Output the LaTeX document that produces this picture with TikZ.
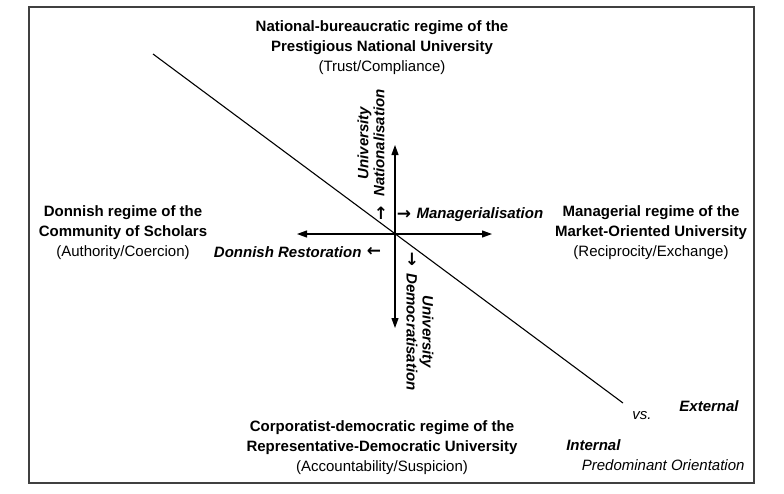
\documentclass[tikz,border=0pt]{standalone}
\usepackage{fontspec}
\setmainfont{Liberation Sans}
\newfontfamily\arrowfont{DejaVu Sans}
\usetikzlibrary{arrows.meta}

\begin{document}
\begin{tikzpicture}[x=1pt,y=-1pt,
  regime/.style={align=center,font=\fontsize{15}{20}\selectfont},
  shiftlabel/.style={font=\fontsize{15}{16}\selectfont\bfseries\itshape},
  shiftarrow/.style={font=\arrowfont\bfseries\fontsize{17}{17}\selectfont,inner sep=0pt},
  axis/.style={line width=1.1pt,-{Triangle[length=10pt,width=7pt]}}]
  \useasboundingbox (0,0) rectangle (784,493);
  \draw[line width=1.4pt,black!75] (29,7) rectangle (754,483);

  % the four regimes
  \node[regime] (natl) at (382,48) {\textbf{National-bureaucratic regime of the}\\\textbf{Prestigious National University}\\(Trust/Compliance)};
  \node[regime] (donn) at (123,233) {\textbf{Donnish regime of the}\\\textbf{Community of Scholars}\\(Authority/Coercion)};
  \node[regime] (mana) at (651,233) {\textbf{Managerial regime of the}\\\textbf{Market-Oriented University}\\(Reciprocity/Exchange)};
  \node[regime] (corp) at (382,448) {\textbf{Corporatist-democratic regime of the}\\\textbf{Representative-Democratic University}\\(Accountability/Suspicion)};

  % orientation line
  \coordinate (dtop) at (153,54);
  \coordinate (dbot) at (623,403);
  \draw[line width=1.1pt] (dtop) -- (dbot);

  % axes
  \coordinate (o) at (395,234);
  \coordinate (up) at (395,145);
  \coordinate (down) at (395,328);
  \coordinate (left) at (297,234);
  \coordinate (right) at (492,234);
  \draw[axis] (o) -- (up);
  \draw[axis] (o) -- (down);
  \draw[axis] (o) -- (left);
  \draw[axis] (o) -- (right);

  % shifts between regimes
  \node[shiftlabel,rotate=90,align=center] (natn) at (371,143) {University\\Nationalisation};
  \node[shiftarrow] (natnarr) at (381,213) {↑};
  \node[shiftarrow] (manaarr) at (404,215) {→};
  \node[shiftlabel,anchor=west] (manashift) at (413,215) {Managerialisation};
  \node[shiftlabel,anchor=east] (donnshift) at (365,252) {Donnish Restoration};
  \node[shiftarrow] (donnarr) at (374,252) {←};
  \node[shiftarrow] (demoarr) at (412,259) {↓};
  \node[shiftlabel,rotate=-90,align=center] (demo) at (420,332) {University\\Democratisation};

  % predominant orientation
  \node[font=\fontsize{15}{16}\selectfont\itshape] (vs) at (642,416) {vs.};
  \node[shiftlabel] (ext) at (709,406) {External};
  \node[shiftlabel,anchor=east] (int) at (624,445) {Internal};
  \node[font=\fontsize{15}{16}\selectfont\itshape,anchor=east] (pred) at (748,465) {Predominant Orientation};
\end{tikzpicture}
\end{document}
